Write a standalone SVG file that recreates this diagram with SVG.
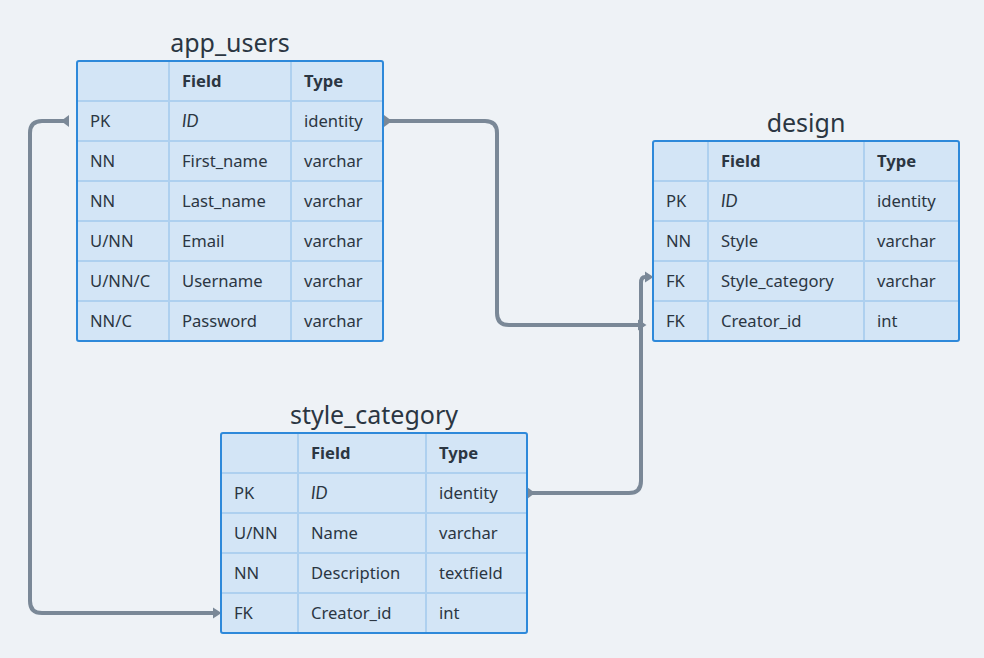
<svg xmlns="http://www.w3.org/2000/svg" width="984" height="658" viewBox="0 0 984 658">
<style>
.bg{fill:#eef2f6}
.tbl{fill:#d3e5f6}
.border{fill:none;stroke:#2e89da;stroke-width:2}
.grid{stroke:#aed0ef;stroke-width:2}
.title{font-family:"Noto Sans",sans-serif;font-size:25px;fill:#2b3642;text-anchor:middle}
.t{font-family:"Noto Sans",sans-serif;font-size:16.6px;fill:#2b3642}
.h{font-weight:bold}
.i{font-family:"Lato","Liberation Sans",sans-serif;font-style:italic;font-size:17px}
.conn{fill:none;stroke:#7a8897;stroke-width:4}
</style>
<defs>
<marker id="head" markerUnits="userSpaceOnUse" markerWidth="9" markerHeight="12" viewBox="0 0 9 12" refX="0" refY="6" orient="auto">
<path d="M0,0.5 L8.5,6 L0,11.5 z" fill="#7a8897"/>
</marker>
<marker id="tail" markerUnits="userSpaceOnUse" markerWidth="9" markerHeight="12" viewBox="0 0 9 12" refX="0" refY="6" orient="auto">
<path d="M0,0 L8,6 L0,12 z" fill="#7a8897"/>
</marker>
</defs>
<rect class="bg" x="0" y="0" width="984" height="658"/>

<g id="connectors">
<path class="conn" d="M 384 121 H 485 Q 497 121 497 133 V 313 Q 497 325 509 325 H 638" marker-start="url(#tail)" marker-end="url(#head)"/>
<path class="conn" d="M 527 493 H 629 Q 641 493 641 481 V 283 Q 641 277 645 277" marker-start="url(#tail)" marker-end="url(#head)"/>
<path class="conn" d="M 69 121 H 42 Q 30 121 30 133 V 601 Q 30 613 42 613 H 213" marker-start="url(#tail)" marker-end="url(#head)"/>
</g>

<g id="app_users">
<text class="title" x="230" y="52">app_users</text>
<rect class="tbl" x="77" y="61" width="306" height="280" rx="2"/>
<line class="grid" x1="169" y1="61" x2="169" y2="341"/>
<line class="grid" x1="291" y1="61" x2="291" y2="341"/>
<line class="grid" x1="77" y1="101" x2="383" y2="101"/>
<line class="grid" x1="77" y1="141" x2="383" y2="141"/>
<line class="grid" x1="77" y1="181" x2="383" y2="181"/>
<line class="grid" x1="77" y1="221" x2="383" y2="221"/>
<line class="grid" x1="77" y1="261" x2="383" y2="261"/>
<line class="grid" x1="77" y1="301" x2="383" y2="301"/>
<rect class="border" x="77" y="61" width="306" height="280" rx="2"/>
<text class="t h" x="182" y="87">Field</text>
<text class="t h" x="304" y="87">Type</text>
<text class="t" x="90" y="127">PK</text>
<text class="t i" x="182" y="127">ID</text>
<text class="t" x="304" y="127">identity</text>
<text class="t" x="90" y="167">NN</text>
<text class="t" x="182" y="167">First_name</text>
<text class="t" x="304" y="167">varchar</text>
<text class="t" x="90" y="207">NN</text>
<text class="t" x="182" y="207">Last_name</text>
<text class="t" x="304" y="207">varchar</text>
<text class="t" x="90" y="247">U/NN</text>
<text class="t" x="182" y="247">Email</text>
<text class="t" x="304" y="247">varchar</text>
<text class="t" x="90" y="287">U/NN/C</text>
<text class="t" x="182" y="287">Username</text>
<text class="t" x="304" y="287">varchar</text>
<text class="t" x="90" y="327">NN/C</text>
<text class="t" x="182" y="327">Password</text>
<text class="t" x="304" y="327">varchar</text>
</g>

<g id="design">
<text class="title" x="806" y="132">design</text>
<rect class="tbl" x="653" y="141" width="306" height="200" rx="2"/>
<line class="grid" x1="708" y1="141" x2="708" y2="341"/>
<line class="grid" x1="864" y1="141" x2="864" y2="341"/>
<line class="grid" x1="653" y1="181" x2="959" y2="181"/>
<line class="grid" x1="653" y1="221" x2="959" y2="221"/>
<line class="grid" x1="653" y1="261" x2="959" y2="261"/>
<line class="grid" x1="653" y1="301" x2="959" y2="301"/>
<rect class="border" x="653" y="141" width="306" height="200" rx="2"/>
<text class="t h" x="721" y="167">Field</text>
<text class="t h" x="877" y="167">Type</text>
<text class="t" x="666" y="207">PK</text>
<text class="t i" x="721" y="207">ID</text>
<text class="t" x="877" y="207">identity</text>
<text class="t" x="666" y="247">NN</text>
<text class="t" x="721" y="247">Style</text>
<text class="t" x="877" y="247">varchar</text>
<text class="t" x="666" y="287">FK</text>
<text class="t" x="721" y="287">Style_category</text>
<text class="t" x="877" y="287">varchar</text>
<text class="t" x="666" y="327">FK</text>
<text class="t" x="721" y="327">Creator_id</text>
<text class="t" x="877" y="327">int</text>
</g>

<g id="style_category">
<text class="title" x="374" y="424">style_category</text>
<rect class="tbl" x="221" y="433" width="306" height="200" rx="2"/>
<line class="grid" x1="298" y1="433" x2="298" y2="633"/>
<line class="grid" x1="426" y1="433" x2="426" y2="633"/>
<line class="grid" x1="221" y1="473" x2="527" y2="473"/>
<line class="grid" x1="221" y1="513" x2="527" y2="513"/>
<line class="grid" x1="221" y1="553" x2="527" y2="553"/>
<line class="grid" x1="221" y1="593" x2="527" y2="593"/>
<rect class="border" x="221" y="433" width="306" height="200" rx="2"/>
<text class="t h" x="311" y="459">Field</text>
<text class="t h" x="439" y="459">Type</text>
<text class="t" x="234" y="499">PK</text>
<text class="t i" x="311" y="499">ID</text>
<text class="t" x="439" y="499">identity</text>
<text class="t" x="234" y="539">U/NN</text>
<text class="t" x="311" y="539">Name</text>
<text class="t" x="439" y="539">varchar</text>
<text class="t" x="234" y="579">NN</text>
<text class="t" x="311" y="579">Description</text>
<text class="t" x="439" y="579">textfield</text>
<text class="t" x="234" y="619">FK</text>
<text class="t" x="311" y="619">Creator_id</text>
<text class="t" x="439" y="619">int</text>
</g>
</svg>
